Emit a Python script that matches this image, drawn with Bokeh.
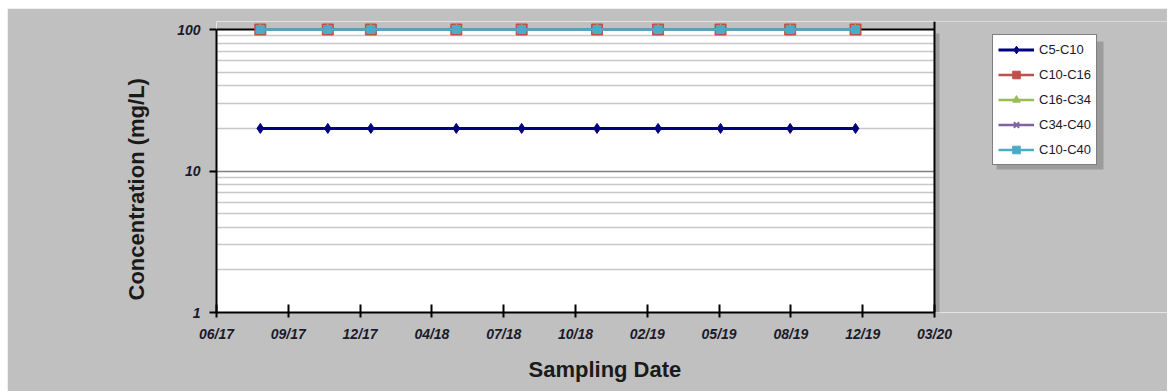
import pandas as pd
from bokeh.plotting import figure
from bokeh.models import (Range1d, FixedTicker, DatetimeTickFormatter, NumeralTickFormatter,
                          Span, BoxAnnotation, Legend, LegendItem, Title, ColumnDataSource)
from bokeh.embed import file_html
from bokeh.resources import INLINE

# ---------------- data ----------------
sample_dates = ["2017-08-14", "2017-11-16", "2018-01-15", "2018-05-14", "2018-08-13",
                "2018-11-26", "2019-02-19", "2019-05-17", "2019-08-22", "2019-11-21"]
c5_c10 = [20, 20, 20, 20, 20, 20, 20, 20, 20, 20]
c10_c16 = [100, 100, 100, 100, 100, 100, 100, 100, 100, 100]
c16_c34 = [100, 100, 100, 100, 100, 100, 100, 100, 100, 100]
c34_c40 = [100, 100, 100, 100, 100, 100, 100, 100, 100, 100]
c10_c40 = [100, 100, 100, 100, 100, 100, 100, 100, 100, 100]
series_names = ["C5-C10", "C10-C16", "C16-C34", "C34-C40", "C10-C40"]

x_tick_dates = ["2017-06-14", "2017-09-22", "2017-12-31", "2018-04-10", "2018-07-19",
                "2018-10-27", "2019-02-04", "2019-05-15", "2019-08-23", "2019-12-01",
                "2020-03-10"]
y_ticks = [1, 10, 100]
y_minor_ticks = [2, 3, 4, 5, 6, 7, 8, 9, 20, 30, 40, 50, 60, 70, 80, 90]

x_title = "Sampling Date"
y_title = "Concentration (mg/L)"

# ---------------- layout / styling ----------------
FONT = "Liberation Sans"
BG = "#c0c0c0"
SHADOW = "#9c9c9c"
TXT = "#1a1a2a"
colors = ["#000080", "#c0504d", "#9bbb59", "#8064a2", "#4bacc6"]
markers = ["diamond", "square", "triangle", "x", "square"]
msizes = [10, 11, 9, 9, 8]
lwidths = [3, 2.5, 2.5, 2.5, 2.5]

# page pixel geometry of the plot area (page = figure + offset)
OFF_X, OFF_Y = 7, 8
FIG_W, FIG_H = 1160, 383
PA_L, PA_R, PA_T, PA_B = 216, 934, 29, 312     # plot area on the page
BAND = 8                                        # room above 100 for markers
FR_R = OFF_X + FIG_W                            # frame right on the page
plot_w = PA_R - PA_L
decade_px = (PA_B - PA_T) / 2.0

xt = pd.to_datetime(x_tick_dates)
dates = pd.to_datetime(sample_dates)
tick_ms = [t.value / 1e6 for t in xt]
ms_per_px = (tick_ms[-1] - tick_ms[0]) / plot_w


def px_x(px):
    return tick_ms[0] + (px - PA_L) * ms_per_px


def px_y(py):
    return 10 ** ((PA_B - py) / decade_px)


p = figure(width=FIG_W, height=FIG_H, x_axis_type="datetime", y_axis_type="log",
           x_range=Range1d(px_x(PA_L), px_x(FR_R)), y_range=Range1d(1, px_y(PA_T - BAND)),
           output_backend="svg", toolbar_location=None,
           min_border_left=PA_L - OFF_X, min_border_right=0,
           min_border_top=PA_T - BAND - OFF_Y, min_border_bottom=OFF_Y + FIG_H - PA_B)
p.margin = (OFF_Y, 0, 0, OFF_X)
p.border_fill_color = BG
p.background_fill_color = "white"
p.outline_line_color = None

# ---------------- axes ----------------
xa = p.xaxis[0]
xa.ticker = FixedTicker(ticks=tick_ms, minor_ticks=[])
xa.formatter = DatetimeTickFormatter(days="%m/%y", months="%m/%y", years="%m/%y",
                                     hours="%m/%y", minutes="%m/%y")
xa.bounds = (tick_ms[0], tick_ms[-1])
xa.axis_line_color = "black"
xa.axis_line_width = 2
xa.major_tick_line_color = "black"
xa.major_tick_line_width = 2
xa.major_tick_in = 8
xa.major_tick_out = 5
xa.minor_tick_line_color = None
xa.major_label_standoff = 8
xa.major_label_text_font = FONT
xa.major_label_text_font_size = "14px"
xa.major_label_text_font_style = "bold italic"
xa.major_label_text_color = TXT

ya = p.yaxis[0]
ya.ticker = FixedTicker(ticks=y_ticks, minor_ticks=y_minor_ticks)
ya.formatter = NumeralTickFormatter(format="0")
ya.bounds = (1, 100)
ya.axis_line_color = "black"
ya.axis_line_width = 2
ya.major_tick_line_color = "black"
ya.major_tick_line_width = 2
ya.major_tick_in = 0
ya.major_tick_out = 7
ya.minor_tick_line_color = None
ya.major_label_standoff = 9
ya.major_label_text_font = FONT
ya.major_label_text_font_size = "14px"
ya.major_label_text_font_style = "bold italic"
ya.major_label_text_color = TXT

# axis titles
p.add_layout(Title(text=x_title, align="left", offset=528 - PA_L, standoff=20,
                   text_font=FONT, text_font_size="22px", text_font_style="bold",
                   text_color="#1a1a1a"), "below")
p.add_layout(Title(text=y_title, align="left", offset=PA_B - 300, standoff=52,
                   text_font=FONT, text_font_size="22px", text_font_style="bold",
                   text_color="#1a1a1a"), "left")

# ---------------- grids ----------------
p.xgrid.grid_line_color = None
yg = p.ygrid[0]
yg.ticker = FixedTicker(ticks=[10], minor_ticks=y_minor_ticks)
yg.grid_line_color = "#808080"
yg.grid_line_width = 1.5
yg.minor_grid_line_color = "#c8c8c8"
yg.minor_grid_line_width = 1.5

# ---------------- frame decorations ----------------
p.add_layout(BoxAnnotation(bottom=100, fill_color=BG, fill_alpha=1.0, line_color=None, level="underlay"))
p.add_layout(Span(location=100, dimension="width", line_color="black", line_width=2, level="underlay"))
p.add_layout(BoxAnnotation(left=tick_ms[-1], fill_color=BG, fill_alpha=1.0, line_color=None, level="glyph"))
p.add_layout(BoxAnnotation(left=px_x(PA_R + 1), right=px_x(PA_R + 5), top=px_y(PA_T + 4), bottom=1,
                           fill_color=SHADOW, fill_alpha=1.0, line_color=None, level="glyph"))
p.add_layout(Span(location=tick_ms[-1], dimension="height", line_color="black", line_width=2, level="glyph"))

# ---------------- series ----------------
all_vals = [c5_c10, c10_c16, c16_c34, c34_c40, c10_c40]
items = []
for name, vals, col, mk, ms, lw in zip(series_names, all_vals, colors, markers, msizes, lwidths):
    src = ColumnDataSource(dict(x=dates, y=vals))
    r1 = p.line("x", "y", source=src, line_color=col, line_width=lw)
    if mk == "x":
        r2 = p.scatter("x", "y", source=src, marker=mk, size=ms, line_color=col, line_width=2)
    else:
        r2 = p.scatter("x", "y", source=src, marker=mk, size=ms, fill_color=col, line_color=col)
    items.append(LegendItem(label=name, renderers=[r1, r2]))

# legend (+ its shadow)
LG_L, LG_T, LG_R, LG_B = 992, 37, 1099, 165
p.add_layout(BoxAnnotation(left=px_x(LG_L + 4), right=px_x(LG_R + 4), top=px_y(LG_T + 4),
                           bottom=px_y(LG_B + 4), fill_color=SHADOW, fill_alpha=1.0,
                           line_color=None, level="overlay"))
legend = Legend(items=items, location=(LG_L - PA_L, PA_B - LG_B), border_line_color="black",
                border_line_width=1.5, background_fill_color="white", background_fill_alpha=1.0,
                label_text_font=FONT, label_text_font_size="13px", label_text_color=TXT,
                glyph_width=36, glyph_height=19, label_height=19, spacing=6, padding=5,
                margin=0, label_standoff=5, level="overlay")
p.add_layout(legend)

open("out.html", "w").write(file_html(p, INLINE))
